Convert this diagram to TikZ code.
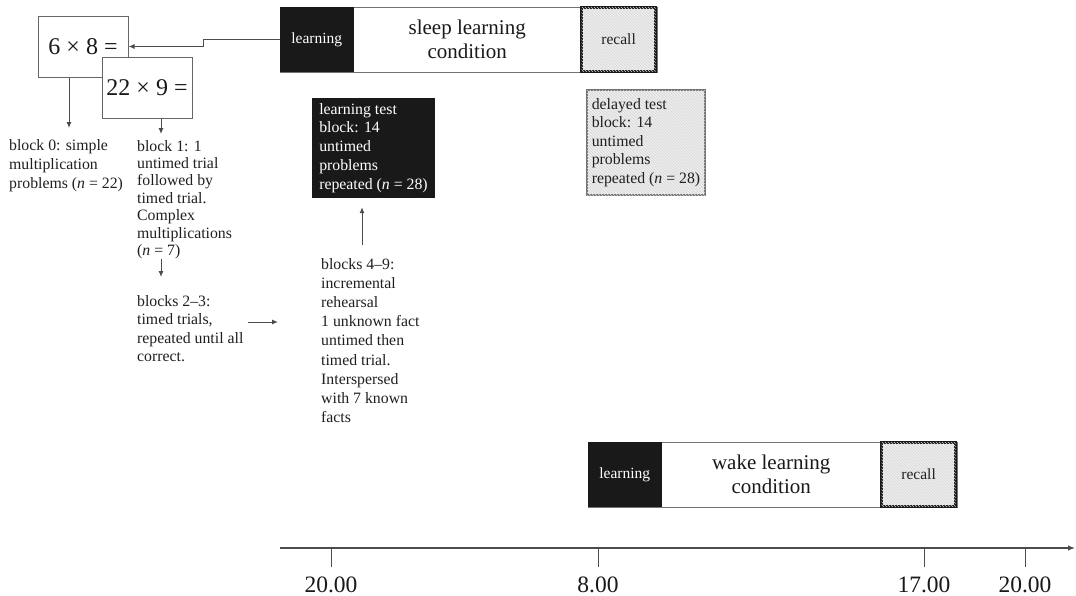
\documentclass[tikz,border=0pt]{standalone}
\usepackage{fontspec}
\setmainfont{Liberation Serif}
\usetikzlibrary{arrows.meta,patterns,calc}
\begin{document}
\begin{tikzpicture}[x=1pt,y=-1pt,
  line/.style={draw=black!70, line width=1pt},
  arr/.style={line, -{Latex[length=6pt,width=5pt]}},
  body/.style={font=\fontsize{15.8}{#1}\selectfont, align=left, inner sep=0pt, anchor=north west, text=black!88},
  body/.default=18,
  probbox/.style={draw=black!60, line width=1pt, fill=white, minimum width=90pt, minimum height=61pt, inner sep=0pt, font=\fontsize{24}{24}\selectfont, text=black!90},
  frame/.style={draw=black!55, line width=0.8pt, inner sep=0pt, minimum height=65pt},
  learnbox/.style={fill=black!90, text=white, minimum width=74pt, minimum height=65pt, inner sep=0pt, font=\fontsize{15.5}{17}\selectfont},
  hatch/.style={fill=black!7, postaction={pattern=north west lines, pattern color=black!16}},
  recallbox/.style={hatch, draw=black!90, line width=2.4pt, minimum width=74pt, minimum height=64pt, inner sep=0pt, font=\fontsize{15.5}{17}\selectfont, text=black!88},
  condtext/.style={align=center, inner sep=0pt, font=\fontsize{21}{24}\selectfont, text=black!90},
  axlabel/.style={anchor=base, inner sep=0pt, font=\fontsize{23.5}{24}\selectfont, text=black!90}
]
\useasboundingbox (0,0) rectangle (1076,595);

% problem boxes
\node[probbox] (p1) at (83,46.5) {6 × 8 =};
\node[probbox] (p2) at (147,88) {22 × 9 =};

% sleep learning condition bar
\node[frame, minimum width=377pt] (sleepbar) at (468.5,39.5) {};
\node[learnbox, anchor=west] (sleepL) at (sleepbar.west) {learning};
\node[recallbox, anchor=east] (sleepR) at ([xshift=-0.6pt]sleepbar.east) {recall};
\node[condtext] (sleepT) at ($(sleepL.east)!0.5!(sleepR.west)$) {sleep learning\\condition};

% wake learning condition bar
\node[frame, minimum width=369pt] (wakebar) at (772.5,474.5) {};
\node[learnbox, anchor=west] (wakeL) at (wakebar.west) {learning};
\node[recallbox, anchor=east] (wakeR) at ([xshift=-0.6pt]wakebar.east) {recall};
\node[condtext] (wakeT) at ($(wakeL.east)!0.5!(wakeR.west)$) {wake learning\\condition};

% text blocks
\node[body=19] (b0) at (9,139) {block 0: simple\\multiplication\\problems (\textit{n} = 22)};
\node[body=17.4] (b1) at (137,140) {block 1: 1\\untimed trial\\followed by\\timed trial.\\Complex\\multiplications\\(\textit{n} = 7)};
\node[body=18.5] (b23) at (137,295) {blocks 2–3:\\timed trials,\\repeated until all\\correct.};
\node[body=19.2] (b49) at (321,258) {blocks 4–9:\\incremental\\rehearsal\\1 unknown fact\\untimed then\\timed trial.\\Interspersed\\with 7 known\\facts};

% test boxes
\node[fill=black!90, text=white, align=left, inner sep=0pt, minimum width=123pt, minimum height=100pt, font=\fontsize{15.8}{18.9}\selectfont] (lt) at (373.5,148) {learning test\\block: 14\\untimed\\problems\\repeated (\textit{n} = 28)};
\node[hatch, draw=black!55, line width=1.3pt, align=left, inner sep=0pt, minimum width=118pt, minimum height=105pt, text=black!88, font=\fontsize{15.8}{18.5}\selectfont] (dt) at (646,142.5) {delayed test\\block: 14\\untimed\\problems\\repeated (\textit{n} = 28)};

% connectors
\draw[arr] (sleepL.west) -- ++(-76,0) |- (p1.east);
\draw[arr, shorten >=11pt] ([xshift=-14pt]p1.south) -- ([xshift=-14pt]p1.south |- b0.north);
\draw[arr, shorten >=6pt] ([xshift=14pt]p2.south) -- ([xshift=14pt]p2.south |- b1.north);
\draw[arr, shorten >=18pt] (161,0 |- b1.south) -- (161,0 |- b23.north);
\draw[arr, shorten <=4pt, shorten >=43pt] (b23.east |- 0,322) -- (b49.west |- 0,322);
\draw[arr, shorten <=13pt, shorten >=9pt] (362,0 |- b49.north) -- (362,0 |- lt.south);

% time axis
\coordinate (ax0) at (280,548);
\coordinate (ax1) at (1075,548);
\draw[line, line width=1.2pt, -{Latex[length=7pt,width=5.5pt]}] (ax0) -- (ax1);
\foreach \x/\l/\n in {331/20.00/t1, 598/8.00/t2, 924/17.00/t3, 1025/20.00/t4}{
  \coordinate (\n a) at (\x,548);
  \coordinate (\n b) at (\x,567);
  \draw[line] (\n a) -- (\n b);
  \node[axlabel] (\n) at (\x,592) {\l};
}
\end{tikzpicture}
\end{document}
